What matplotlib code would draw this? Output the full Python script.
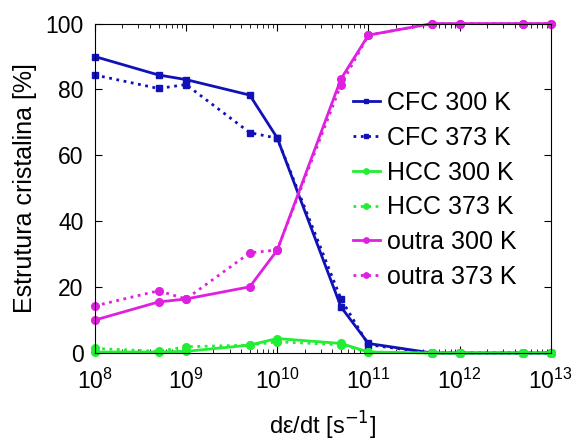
import matplotlib
matplotlib.use("Agg")
import matplotlib.pyplot as plt
from matplotlib.ticker import LogLocator, NullFormatter

plt.rcParams['font.family'] = ['Liberation Sans', 'DejaVu Sans']

rates = [1e8, 5e8, 1e9, 5e9, 1e10, 5e10, 1e11, 5e11, 1e12, 5e12, 1e13]
cfc_300 = [90.0, 84.4, 83.0, 78.3, 65.3, 14.0, 2.9, 0, 0, 0, 0]
cfc_373 = [84.4, 80.3, 81.5, 66.9, 65.2, 16.4, 2.5, 0, 0, 0, 0]
hcc_300 = [0.3, 0.3, 0.5, 2.4, 4.4, 2.9, 0.3, 0, 0, 0, 0]
hcc_373 = [1.4, 0.5, 1.9, 2.4, 3.4, 2.5, 0.3, 0, 0, 0, 0]
outra_300 = [10.0, 15.5, 16.4, 20.1, 31.2, 83.2, 96.5, 100, 100, 100, 100]
outra_373 = [14.3, 18.9, 16.4, 30.4, 31.3, 81.4, 96.5, 100, 100, 100, 100]

blue = '#1111b8'
green = '#22ee33'
mag = '#e020e0'

fig = plt.figure(figsize=(5.78, 4.41), dpi=100)
ax = fig.add_axes([0.164, 0.1995, 0.789, 0.747])

kw = dict(lw=2, clip_on=False)
ax.plot(rates, cfc_300, '-', color=blue, marker='s', ms=4.5, label='CFC 300 K', **kw)
ax.plot(rates, cfc_373, ':', color=blue, marker='s', ms=4.5, label='CFC 373 K', **kw)
ax.plot(rates, hcc_300, '-', color=green, marker='o', ms=5.5, label='HCC 300 K', **kw)
ax.plot(rates, hcc_373, ':', color=green, marker='o', ms=5.5, label='HCC 373 K', **kw)
ax.plot(rates, outra_300, '-', color=mag, marker='o', ms=5.5, label='outra 300 K', **kw)
ax.plot(rates, outra_373, ':', color=mag, marker='o', ms=5.5, label='outra 373 K', **kw)

ax.set_xscale('log')
ax.set_xlim(1e8, 1e13)
ax.set_ylim(0, 100)
ax.set_yticks([0, 20, 40, 60, 80, 100])
ax.xaxis.set_major_locator(LogLocator(base=10, numticks=10))
ax.xaxis.set_minor_locator(LogLocator(base=10, subs=range(2, 10), numticks=100))
ax.xaxis.set_minor_formatter(NullFormatter())
ax.tick_params(which='both', direction='in', top=True, right=True, labelsize=16.5)
ax.tick_params(which='major', length=5)
ax.tick_params(axis='x', which='major', pad=11)
ax.tick_params(axis='y', which='major', pad=8)
ax.tick_params(which='minor', length=3)
for s in ax.spines.values():
    s.set_linewidth(0.8)

ax.set_xlabel('dε/dt [s$^{-1}$]', fontsize=17, labelpad=12)
ax.set_ylabel('Estrutura cristalina [%]', fontsize=18, labelpad=6)

ax.legend(loc='upper left', bbox_to_anchor=(0.566, 0.795), frameon=False, fontsize=18,
          handlelength=1.08, handletextpad=0.28, markerscale=0.7, labelspacing=0.43,
          borderaxespad=0, borderpad=0)

fig.savefig('out.png', dpi=100)
